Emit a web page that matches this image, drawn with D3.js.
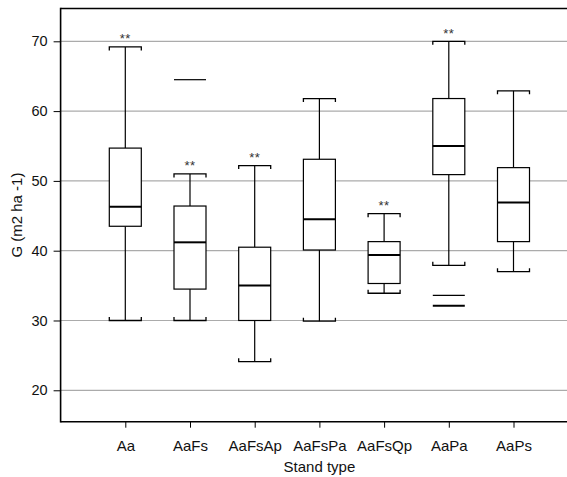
<!DOCTYPE html>
<html>
<head>
<meta charset="utf-8">
<script src="https://cdn.jsdelivr.net/npm/d3@7"></script>
<style>
  html, body { margin: 0; padding: 0; background: #fff; }
  svg { display: block; font-family: "Liberation Sans", Arial, sans-serif; }
</style>
</head>
<body>
<svg id="chart" width="567" height="477"></svg>
<script>
const categories = ["Aa", "AaFs", "AaFsAp", "AaFsPa", "AaFsQp", "AaPa", "AaPs"];
const whiskerLow  = [30.0, 30.0, 24.1, 29.9, 33.9, 37.9, 37.0];
const q1          = [43.5, 34.5, 30.0, 40.1, 35.3, 50.9, 41.3];
const median      = [46.3, 41.2, 35.0, 44.5, 39.4, 55.0, 46.9];
const q3          = [54.7, 46.4, 40.5, 53.1, 41.3, 61.8, 51.9];
const whiskerHigh = [69.2, 51.0, 52.2, 61.8, 45.3, 70.0, 62.9];
const outlierCats   = ["AaFs", "AaPa", "AaPa"];
const outlierValues = [64.5, 33.6, 32.1];
const significant = ["Aa", "AaFs", "AaFsAp", "AaFsQp", "AaPa"];
const yTicks = [20, 30, 40, 50, 60, 70];
const yTitle = "G (m2 ha -1)";
const xTitle = "Stand type";

(function () {
const svg = d3.select("#chart");
const mLeft = 60.6, mRight = 578.2, mTop = 8.5, mBottom = 421.7;
const W = 567;

const x = d3.scalePoint().domain(categories).range([mLeft, mRight]).padding(1);
const y = d3.scaleLinear().domain([15.5, 74.7]).range([mBottom, mTop]);
const boxW = 32;

const boxes = categories.map((c, i) => ({
  cat: c, lo: whiskerLow[i], q1: q1[i], med: median[i], q3: q3[i], hi: whiskerHigh[i]
}));

svg.append("g").selectAll("line").data(yTicks).join("line")
  .attr("x1", mLeft).attr("x2", W)
  .attr("y1", d => y(d)).attr("y2", d => y(d))
  .attr("stroke", "#ababab").attr("stroke-width", 1.2);

const yAxis = d3.axisLeft(y).tickValues(yTicks).tickSize(7).tickPadding(6);
const gy = svg.append("g").attr("transform", `translate(${mLeft},0)`).call(yAxis);
gy.select(".domain").remove();
gy.selectAll(".tick line").attr("stroke", "#000");
gy.selectAll(".tick text").attr("font-size", 14.5).attr("fill", "#111")
  .attr("font-family", "Liberation Sans, Arial, sans-serif");

const xAxis = d3.axisBottom(x).tickSize(6).tickPadding(13);
const gx = svg.append("g").attr("transform", `translate(0,${mBottom})`).call(xAxis);
gx.select(".domain").remove();
gx.selectAll(".tick line").attr("stroke", "#000");
gx.selectAll(".tick text").attr("font-size", 15).attr("fill", "#111")
  .attr("font-family", "Liberation Sans, Arial, sans-serif");

svg.append("line").attr("x1", mLeft).attr("x2", W).attr("y1", mTop).attr("y2", mTop)
  .attr("stroke", "#000").attr("stroke-width", 1.6);
svg.append("line").attr("x1", mLeft).attr("x2", W).attr("y1", mBottom).attr("y2", mBottom)
  .attr("stroke", "#000").attr("stroke-width", 1.6);
svg.append("line").attr("x1", mLeft).attr("x2", mLeft).attr("y1", mTop - 0.8).attr("y2", mBottom + 0.8)
  .attr("stroke", "#000").attr("stroke-width", 1.6);

const g = svg.append("g").attr("stroke", "#000").attr("fill", "none");
const bg = g.selectAll("g.box").data(boxes).join("g").attr("class", "box");

bg.append("line").attr("x1", d => x(d.cat)).attr("x2", d => x(d.cat))
  .attr("y1", d => y(d.q3)).attr("y2", d => y(d.hi)).attr("stroke-width", 1.2);
bg.append("line").attr("x1", d => x(d.cat)).attr("x2", d => x(d.cat))
  .attr("y1", d => y(d.q1)).attr("y2", d => y(d.lo)).attr("stroke-width", 1.2);
bg.append("path").attr("stroke-width", 1.3)
  .attr("d", d => {
    const cx = x(d.cat), yy = y(d.hi), h = boxW / 2;
    return `M${cx - h},${yy + 3.5}V${yy}H${cx + h}V${yy + 3.5}`;
  });
bg.append("path").attr("stroke-width", 1.3)
  .attr("d", d => {
    const cx = x(d.cat), yy = y(d.lo), h = boxW / 2;
    return `M${cx - h},${yy - 3.5}V${yy}H${cx + h}V${yy - 3.5}`;
  });
bg.append("rect")
  .attr("x", d => x(d.cat) - boxW / 2).attr("width", boxW)
  .attr("y", d => y(d.q3)).attr("height", d => y(d.q1) - y(d.q3))
  .attr("fill", "#fff").attr("stroke-width", 1.2);
bg.append("line")
  .attr("x1", d => x(d.cat) - boxW / 2).attr("x2", d => x(d.cat) + boxW / 2)
  .attr("y1", d => y(d.med)).attr("y2", d => y(d.med)).attr("stroke-width", 2);

const outliers = outlierCats.map((c, i) => ({ cat: c, v: outlierValues[i] }));
g.selectAll("line.out").data(outliers).join("line").attr("class", "out")
  .attr("x1", d => x(d.cat) - boxW / 2).attr("x2", d => x(d.cat) + boxW / 2)
  .attr("y1", d => y(d.v)).attr("y2", d => y(d.v))
  .attr("stroke-width", (d, i) => i === 2 ? 2 : 1.2);

svg.append("g").selectAll("text").data(boxes.filter(b => significant.includes(b.cat))).join("text")
  .attr("x", d => x(d.cat)).attr("y", d => y(d.hi) - 3.6)
  .attr("text-anchor", "middle").attr("font-size", 13).attr("fill", "#333")
  .attr("letter-spacing", 0.5)
  .text("**");

svg.append("text").attr("x", x("AaFsPa")).attr("y", 472)
  .attr("text-anchor", "middle").attr("font-size", 15).attr("fill", "#111")
  .text(xTitle);
svg.append("text")
  .attr("transform", `translate(22,${(mTop + mBottom) / 2}) rotate(-90)`)
  .attr("text-anchor", "middle").attr("font-size", 15).attr("fill", "#111")
  .text(yTitle);
})();
</script>
</body>
</html>
